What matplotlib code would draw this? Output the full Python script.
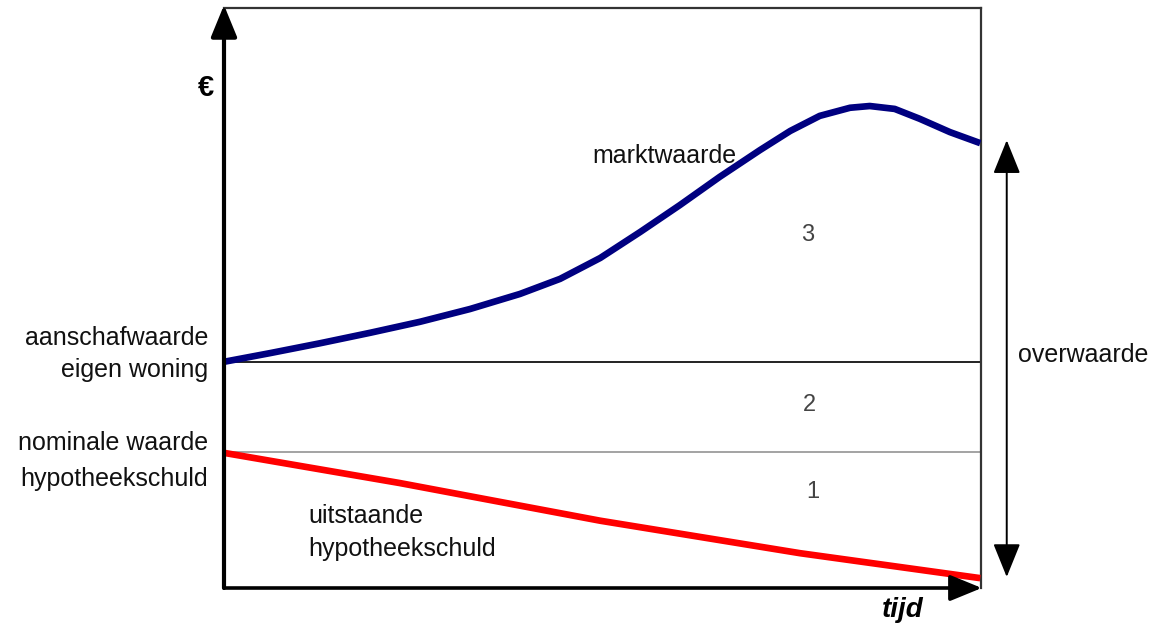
import matplotlib
matplotlib.use("Agg")
import matplotlib.pyplot as plt

# ---- data (time units 0..100, value units 0..100) ----
market_x = [0.0, 6.1, 12.7, 19.3, 25.9, 32.5, 39.1, 44.4, 49.7, 55.0, 60.2, 65.5,
            70.8, 74.8, 78.7, 82.7, 85.3, 88.6, 91.9, 95.9, 99.9]
market_y = [39.0, 40.5, 42.2, 44.0, 45.9, 48.1, 50.7, 53.3, 56.9, 61.4, 66.0, 70.9,
            75.5, 78.8, 81.4, 82.8, 83.1, 82.6, 80.9, 78.6, 76.7]
debt_x = [0.0, 23.2, 49.7, 76.1, 99.9]
debt_y = [23.3, 18.1, 11.6, 6.0, 1.7]
aanschafwaarde = 38.9
nominale_waarde = 23.4

left_labels = ["aanschafwaarde", "eigen woning", "nominale waarde", "hypotheekschuld"]
zone_labels = ["3", "2", "1"]

plt.rcParams['font.family'] = ['Liberation Sans', 'DejaVu Sans']

fig = plt.figure(figsize=(11.55, 6.24), dpi=100)
ax = fig.add_axes([224/1155, 36/624, 757/1155, 580/624])
ax.set_xlim(0, 100)
ax.set_ylim(0, 100)
ax.set_xticks([])
ax.set_yticks([])
for s in ['top', 'right']:
    ax.spines[s].set_linewidth(1.6)
    ax.spines[s].set_color('#333333')
ax.spines['left'].set_visible(False)
ax.spines['bottom'].set_visible(False)

# reference levels
ax.axhline(aanschafwaarde, color='#222222', lw=1.4, zorder=1)
ax.axhline(nominale_waarde, color='#8a8a8a', lw=1.1, zorder=1)

# curves
ax.plot(market_x, market_y, color='#000080', lw=4.8, solid_capstyle='butt',
        solid_joinstyle='round', zorder=3)
ax.plot(debt_x, debt_y, color='#ff0000', lw=4.8, solid_capstyle='butt',
        solid_joinstyle='round', zorder=3)

# axes arrows
aprops = dict(arrowstyle='-|>,head_length=1.95,head_width=0.8', mutation_scale=10,
              color='black', shrinkA=0, shrinkB=0)
ax.annotate('', xy=(0, 100.5), xytext=(0, 0), arrowprops=dict(lw=3, **aprops),
            annotation_clip=False, zorder=5)
ax.annotate('', xy=(100.1, 0), xytext=(0, 0), arrowprops=dict(lw=2.6, **aprops),
            annotation_clip=False, zorder=5)

# overwaarde double arrow
dprops = dict(arrowstyle='<|-|>,head_length=2.1,head_width=0.85', mutation_scale=10,
              color='black', shrinkA=0, shrinkB=0, lw=1.4)
ax.annotate('', xy=(103.4, 77.2), xytext=(103.4, 1.9), arrowprops=dprops,
            annotation_clip=False)

fs = 18
tk = dict(fontsize=fs, color='#111111', clip_on=False)
# left labels
ax.text(-2.1, 41.9, left_labels[0], ha='right', va='baseline', **tk)
ax.text(-2.1, 36.4, left_labels[1], ha='right', va='baseline', **tk)
ax.text(-2.1, 23.8, left_labels[2], ha='right', va='baseline', **tk)
ax.text(-2.1, 17.6, left_labels[3], ha='right', va='baseline', **tk)

ax.text(48.7, 73.3, "marktwaarde", ha='left', va='baseline', **tk)
ax.text(11.1, 11.2, "uitstaande", ha='left', va='baseline', **tk)
ax.text(11.1, 5.5, "hypotheekschuld", ha='left', va='baseline', **tk)
ax.text(104.9, 39.0, "overwaarde", ha='left', va='baseline', **tk)

# zone numbers
zpos = [(77.1, 60.9), (77.4, 31.6), (77.8, 16.6)]
for lab, (zx, zy) in zip(zone_labels, zpos):
    ax.text(zx, zy, lab, ha='center', va='center', fontsize=17, color='#444444',
            clip_on=False)

ax.text(-2.4, 86.2, "€", ha='center', va='center', fontsize=21, fontweight='bold',
        color='black', clip_on=False)
ax.text(86.9, -5.0, "tijd", ha='left', va='baseline', fontsize=20, fontweight='bold',
        fontstyle='italic', color='black', clip_on=False)

fig.savefig('out.png', dpi=100)
